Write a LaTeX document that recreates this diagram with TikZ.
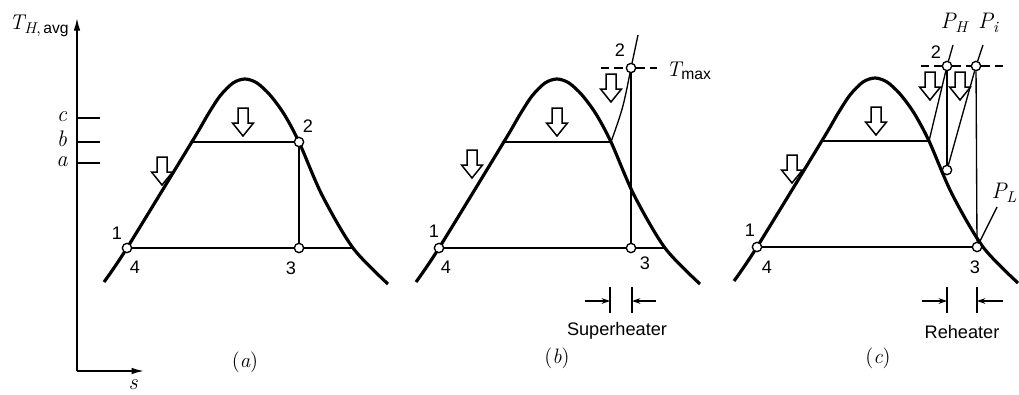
\documentclass[tikz,border=0pt]{standalone}
\usepackage{fontspec}
\setsansfont{Liberation Sans}
\usetikzlibrary{arrows.meta}
\newcommand{\mydome}{plot[smooth, tension=0.5] coordinates {(-141,203) (-118,169) (-52,61) (-38,37) (-25,17) (-12,4) (0,0) (12,4) (25,16) (39,35) (54,63) (77,116) (108,169) (143,205)}}
\newcommand{\iv}[1]{{\itshape #1}}
\newcommand{\sub}[1]{\raisebox{-0.4ex}{\fontsize{9.4}{10}\selectfont #1}}
\tikzset{
  domeline/.style={line width=1.9pt},
  thinline/.style={line width=0.8pt},
  ptc/.style={circle, draw, fill=white, line width=0.8pt, inner sep=0pt, minimum size=5.6pt},
  lab/.style={font=\fontsize{10.9}{13}\selectfont\sffamily, inner sep=0pt},
  mlab/.style={font=\fontsize{13.5}{15}\selectfont, inner sep=0pt},
  tlab/.style={font=\fontsize{12.8}{14}\selectfont, inner sep=0pt},
  captext/.style={font=\fontsize{12.5}{14}\selectfont, inner sep=0pt},
  harrow/.pic={\draw[line width=0.9pt, fill=white, line join=miter] (-5,0) -- (5,0) -- (5,15) -- (10.5,15) -- (0,28) -- (-10.5,15) -- (-5,15) -- cycle;},
  dimarrow/.style={thinline, -{Stealth[length=5pt,width=3.4pt]}},
  axisline/.style={line width=1pt, -{Latex[length=7.5pt,width=4pt]}},
  dashline/.style={thinline, dash pattern=on 5pt off 3pt},
}
\begin{document}
\begin{tikzpicture}[x=0.6pt,y=-0.6pt]
\useasboundingbox (0,0) rectangle (1019,394);

% ---------- axes ----------
\coordinate (O) at (77,371);
\coordinate (ytip) at (77,18);
\coordinate (xtip) at (144,371);
\draw[axisline] (O) -- (ytip);
\draw[axisline] (O) -- (xtip);
\node[tlab] (ylab) at (39,26) {\iv{T}\sub{\iv{H},\,\sffamily avg}};
\node[mlab] (xlab) at (133,385) {\iv{s}};
\coordinate (tc1) at (77,118); \coordinate (tc2) at (100,118);
\coordinate (tb1) at (77,142); \coordinate (tb2) at (100,142);
\coordinate (ta1) at (77,163); \coordinate (ta2) at (100,163);
\draw[thinline] (tc1) -- (tc2);
\draw[thinline] (tb1) -- (tb2);
\draw[thinline] (ta1) -- (ta2);
\node[mlab] (lc) at (62,117) {\iv{c}};
\node[mlab] (lb) at (62,139) {\iv{b}};
\node[mlab] (la) at (62,162) {\iv{a}};

% ---------- panel (a) ----------
\begin{scope}[shift={(245,79)}]
  \draw[domeline] \mydome;
\end{scope}
\coordinate (aL) at (192,142);
\coordinate (aR) at (353,248);
\node[ptc] (a1) at (127,248) {};
\node[ptc] (a2) at (299,142) {};
\node[ptc] (a3) at (299,248) {};
\draw[thinline] (aL) -- (a2);
\draw[thinline] (a2) -- (a3);
\draw[thinline] (a1) -- (a3);
\draw[thinline] (a3) -- (aR);
\pic at (162,157) {harrow};
\pic at (243,108) {harrow};
\node[lab] (la1) at (117,233) {1};
\node[lab] (la4) at (135,267) {4};
\node[lab] (la2) at (308,126) {2};
\node[lab] (la3) at (291,268) {3};
\node[captext] (capa) at (245,362) {(\iv{a})};

% ---------- panel (b) ----------
\begin{scope}[shift={(557,79)}]
  \draw[domeline] \mydome;
\end{scope}
\coordinate (bL) at (504,142);
\coordinate (bR) at (611,142);
\coordinate (btop) at (638,35);
\coordinate (bRR) at (665,248);
\coordinate (bd1) at (601,68);
\coordinate (bd2) at (657,68);
\node[ptc] (b1) at (439,248) {};
\node[ptc] (b2) at (631,68) {};
\node[ptc] (b3) at (631,248) {};
\draw[thinline] (bL) -- (bR);
\draw[thinline] (bR) .. controls (623,108) .. (b2);
\draw[thinline] (b2) -- (btop);
\draw[thinline] (b2) -- (b3);
\draw[thinline] (b1) -- (b3);
\draw[thinline] (b3) -- (bRR);
\draw[dashline] (bd1) -- (b2);
\draw[dashline] (b2) -- (bd2);
\node[tlab, anchor=west] (tmax) at (666,71) {\iv{T}\sub{\sffamily max}};
\pic at (472,150) {harrow};
\pic at (557,108) {harrow};
\pic at (611,74) {harrow};
\node[lab] (lb1) at (434,231) {1};
\node[lab] (lb4) at (446,267) {4};
\node[lab] (lb2) at (620,50) {2};
\node[lab] (lb3) at (645,263) {3};
% superheater dimension
\coordinate (bt1a) at (610,287); \coordinate (bt1b) at (610,313);
\coordinate (bt2a) at (632,287); \coordinate (bt2b) at (632,313);
\coordinate (ba1s) at (585,301); \coordinate (ba1e) at (610,301);
\coordinate (ba2s) at (656,301); \coordinate (ba2e) at (632,301);
\draw[thinline] (bt1a) -- (bt1b);
\draw[thinline] (bt2a) -- (bt2b);
\draw[dimarrow] (ba1s) -- (ba1e);
\draw[dimarrow] (ba2s) -- (ba2e);
\node[lab] (superh) at (617,331) {Superheater};
\node[captext] (capb) at (557,358) {(\iv{b})};

% ---------- panel (c) ----------
\begin{scope}[shift={(875,78)}]
  \draw[domeline] \mydome;
\end{scope}
\coordinate (cL) at (822,141);
\coordinate (cR) at (929,141);
\coordinate (c2t) at (953,45);
\coordinate (cPit) at (983,45);
\coordinate (cd1) at (921,66);
\coordinate (cd2) at (1004,66);
\coordinate (plend) at (997,207);
\node[ptc] (c1) at (757,247) {};
\node[ptc] (c2) at (947,66) {};
\node[ptc] (cPi) at (976,66) {};
\node[ptc] (cm) at (947,170) {};
\node[ptc] (c3) at (977,247) {};
\draw[thinline] (cL) -- (cR);
\draw[thinline] (cR) -- (c2);
\draw[thinline] (c2) -- (cm);
\draw[thinline] (cm) -- (cPi);
\draw[thinline] (cPi) -- (c3);
\draw[thinline] (c1) -- (c3);
\draw[thinline] (c2) -- (c2t);
\draw[thinline] (cPi) -- (cPit);
\draw[dashline] (cd1) -- (c2);
\draw[dashline] (c2) -- (cPi);
\draw[dashline] (cPi) -- (cd2);
\draw[thinline] (plend) -- (c3);
\node[mlab] (lPH) at (954,23) {\iv{P}\sub{\iv{H}}};
\node[mlab] (lPi) at (988,23) {\iv{P}\sub{\iv{i}}};
\node[mlab] (lPL) at (1004,193) {\iv{P}\sub{\iv{L}}};
\pic at (792,155) {harrow};
\pic at (876,107) {harrow};
\pic at (930,72) {harrow};
\pic at (960,72) {harrow};
\node[lab] (lc1) at (750,230) {1};
\node[lab] (lc4) at (767,267) {4};
\node[lab] (lc2) at (936,52) {2};
\node[lab] (lc3) at (975,267) {3};
% reheater dimension
\coordinate (ct1a) at (947,287); \coordinate (ct1b) at (947,313);
\coordinate (ct2a) at (977,287); \coordinate (ct2b) at (977,313);
\coordinate (ca1s) at (922,301); \coordinate (ca1e) at (947,301);
\coordinate (ca2s) at (1003,301); \coordinate (ca2e) at (977,301);
\draw[thinline] (ct1a) -- (ct1b);
\draw[thinline] (ct2a) -- (ct2b);
\draw[dimarrow] (ca1s) -- (ca1e);
\draw[dimarrow] (ca2s) -- (ca2e);
\node[lab] (reh) at (962,332) {Reheater};
\node[captext] (capc) at (878,358) {(\iv{c})};
\end{tikzpicture}
\end{document}
